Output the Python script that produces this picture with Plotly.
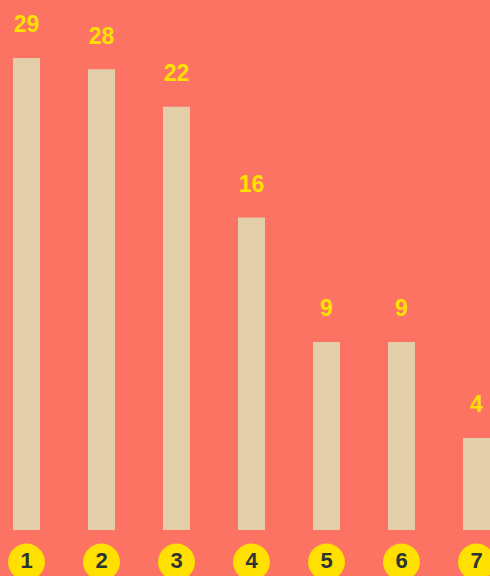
import plotly.graph_objects as go

categories = ["1", "2", "3", "4", "5", "6", "7"]
bar_heights = [29.0, 28.3, 26.0, 19.2, 11.55, 11.55, 5.65]
labels = ["29", "28", "22", "16", "9", "9", "4"]

BG = "#FC7263"
BAR = "#E3CEAA"
YEL = "#FFE000"
DARK = "#2D3436"

px_per_unit = 16.28
label_off = 31.5 / px_per_unit
circle_y = -(562 - 530) / px_per_unit

x = list(range(len(categories)))

fig = go.Figure()
fig.add_trace(go.Bar(x=x, y=bar_heights, width=0.36, marker=dict(color=BAR, line=dict(width=0)),
                     hoverinfo="skip"))
fig.add_trace(go.Scatter(x=x, y=[h + label_off for h in bar_heights], mode="text", text=labels,
                         textposition="middle center",
                         textfont=dict(family="Liberation Sans, Arial", size=23, color=YEL, weight="bold"),
                         hoverinfo="skip"))
fig.add_trace(go.Scatter(x=x, y=[circle_y] * len(x), mode="markers+text", text=categories,
                         textposition="middle center",
                         marker=dict(size=37, color=YEL, line=dict(width=0)),
                         textfont=dict(family="Liberation Sans, Arial", size=22, color=DARK, weight="bold"),
                         hoverinfo="skip", cliponaxis=False))

span = 576 / px_per_unit
y1 = 530 / px_per_unit
x0 = -26.5 / 75
fig.update_layout(
    width=490, height=576, margin=dict(l=0, r=0, t=0, b=0),
    paper_bgcolor=BG, plot_bgcolor=BG, showlegend=False,
    xaxis=dict(range=[x0, x0 + 490 / 75], visible=False, fixedrange=True),
    yaxis=dict(range=[y1 - span, y1], visible=False, fixedrange=True),
)
fig.write_html("out.html")
